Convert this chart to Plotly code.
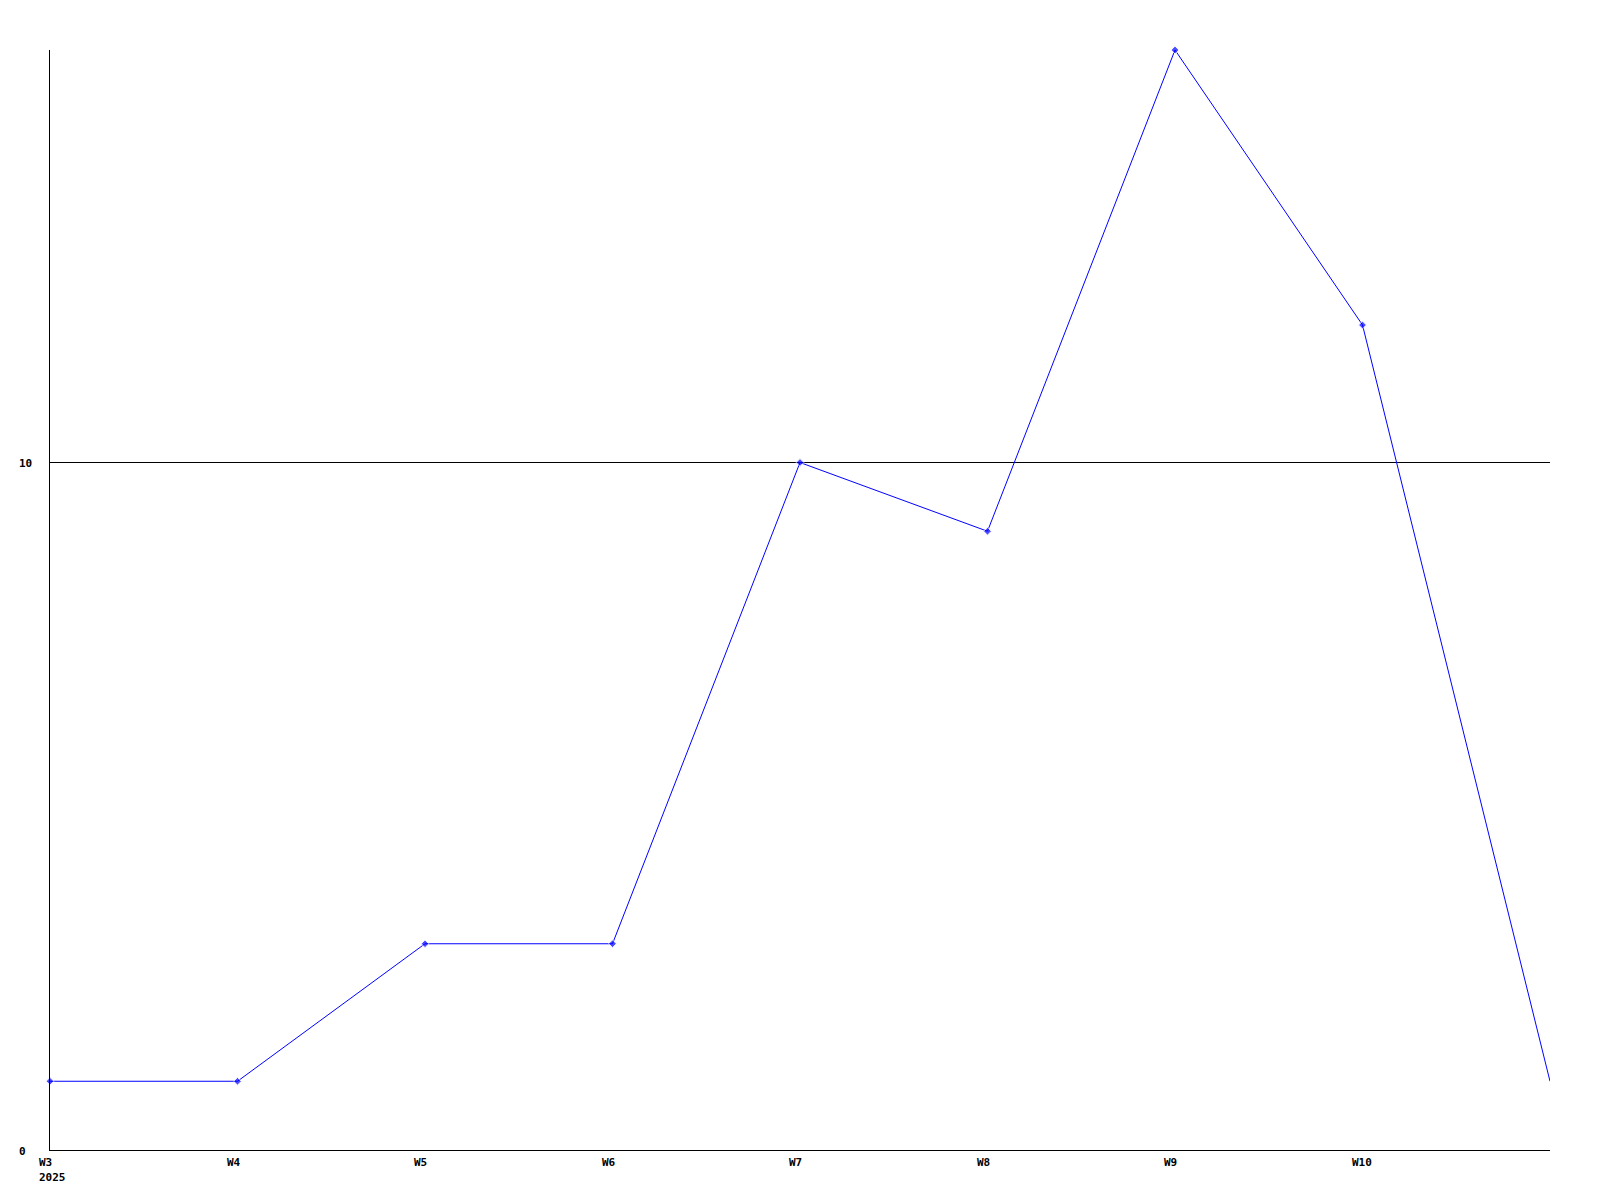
import plotly.graph_objects as go

weeks = ["W3", "W4", "W5", "W6", "W7", "W8", "W9", "W10", "W11"]
tick_labels = ["W3", "W4", "W5", "W6", "W7", "W8", "W9", "W10", ""]
values = [1, 1, 3, 3, 10, 9, 16, 12, 1]
year_label = "2025"
y_ticks = [0, 10]

x_idx = list(range(len(weeks)))
FONT = dict(family="DejaVu Sans Mono", size=11, color="black")
marker_sizes = [6] * (len(values) - 1) + [0]

fig = go.Figure()
fig.add_trace(go.Scatter(
    x=x_idx, y=values, mode="lines+markers",
    line=dict(color="#0000ff", width=1),
    marker=dict(symbol="diamond", size=marker_sizes, color="#0000ff"),
    hoverinfo="skip", cliponaxis=False,
))

annotations = []
for i, lab in enumerate(tick_labels):
    if lab:
        annotations.append(dict(x=i, y=0, xref="x", yref="y", text="<b>%s</b>" % lab,
                                showarrow=False, xanchor="left", yanchor="top",
                                xshift=-13, yshift=-4, font=FONT))
annotations.append(dict(x=0, y=0, xref="x", yref="y", text="<b>%s</b>" % year_label,
                        showarrow=False, xanchor="left", yanchor="top",
                        xshift=-13, yshift=-19, font=FONT))
for v in y_ticks:
    annotations.append(dict(x=0, y=v, xref="x", yref="y", text="<b>%d</b>" % v,
                            showarrow=False, xanchor="left", yanchor="middle",
                            xshift=-33, yshift=-1, font=FONT))

fig.update_layout(
    width=1600, height=1200,
    margin=dict(l=42, r=58, t=42, b=58),
    paper_bgcolor="white", plot_bgcolor="white",
    showlegend=False,
    annotations=annotations,
    xaxis=dict(range=[0, 8], showgrid=False, zeroline=False, showticklabels=False,
               ticks="", showline=True, linecolor="black", linewidth=1, mirror=False),
    yaxis=dict(range=[0, 16], tickvals=y_ticks, showticklabels=False, ticks="",
               showgrid=True, gridcolor="black", gridwidth=1, zeroline=False,
               showline=True, linecolor="black", linewidth=1, mirror=False),
)

fig.write_html("out.html")
